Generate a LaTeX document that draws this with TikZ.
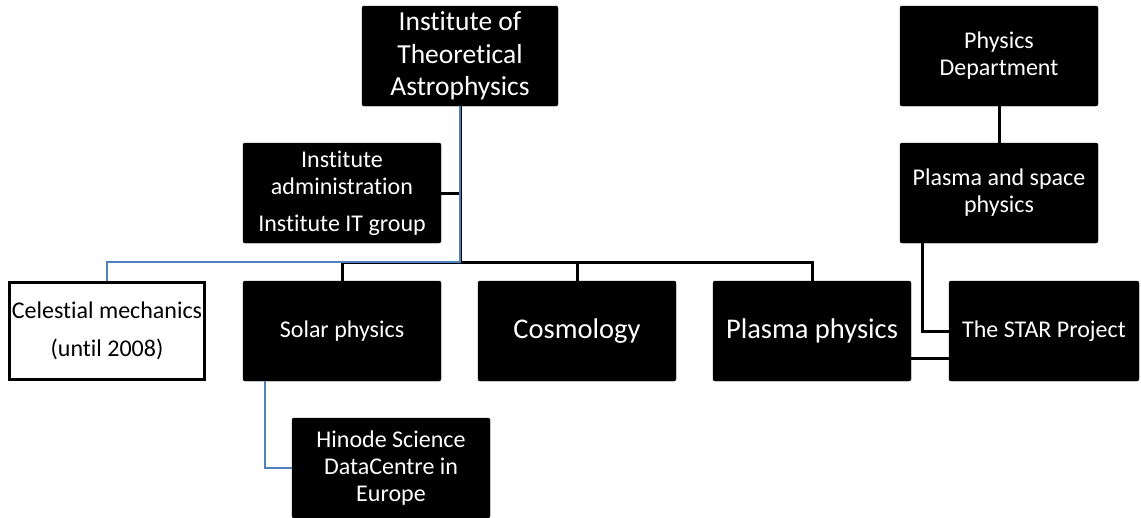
\documentclass[tikz,border=0pt]{standalone}
\usepackage{fontspec}
\setmainfont[Ligatures=NoCommon]{Carlito}
\definecolor{linkblue}{RGB}{79,129,189}
\tikzset{
  unit/.style={fill=black, draw=black, rounded corners=2pt, text=white,
    minimum width=198pt, minimum height=100pt, align=center, inner sep=1pt},
  pastunit/.style={fill=white, draw=black, line width=3pt, text=black,
    minimum width=195pt, minimum height=97pt, align=center, inner sep=0pt},
  conn/.style={draw=black, line width=3pt},
  blueconn/.style={draw=linkblue, line width=1.4pt},
  fsA/.style={font=\fontsize{27.5}{32.5}\selectfont},
  fsB/.style={font=\fontsize{24}{27}\selectfont},
  fsC/.style={font=\fontsize{28.5}{32}\selectfont},
}
\begin{document}
\begin{tikzpicture}[x=1pt, y=-1pt]
\useasboundingbox (0,0) rectangle (1141,517);

% institute and its groups
\node[unit, fsA, minimum width=196pt] (ita) at (460,56) {Institute of\\Theoretical\\Astrophysics};
\node[unit, fsB] (adm) at (342,193) {Institute\\administration\\[10pt]Institute IT group};
\node[pastunit, fsB, text depth=4pt] (cm) at (107,331) {Celestial mechanics\\[11pt](until 2008)};
\node[unit, fsB] (sp) at (342,331) {Solar physics};
\node[unit, fsC] (cos) at (577,331) {Cosmology};
\node[unit, fsC] (pp) at (812,331) {Plasma physics};
\node[unit, fsB] (hin) at (391,468) {Hinode Science\\DataCentre in\\Europe};

% physics department side
\node[unit, fsB] (pd) at (999,56) {Physics\\Department};
\node[unit, fsB] (psp) at (999,193) {Plasma and space\\physics};
\node[unit, fsB, minimum width=190pt] (star) at (1044,331) {The STAR Project};

% tree connectors
\coordinate (bus) at (460,262);
\draw[conn] (ita.south) -- (bus);
\draw[conn] (adm.east) -- (adm.east -| bus);
\draw[conn] (sp.north) |- (bus) -| (pp.north);
\draw[conn] (cos.north) -- (cos.north |- bus);
\draw[blueconn] (ita.south) -- (bus) -- (bus -| sp.north);
\draw[blueconn] (bus -| sp.north) -| (cm.north);
\coordinate (hx) at ([xshift=22pt]sp.south west);
\draw[blueconn] (hx) |- (hin.west);

\draw[conn] (pd.south) -- (psp.north);
\draw[conn] ([xshift=23pt]psp.south west) |- (star.west);
\draw[conn] ([yshift=-27pt]pp.east) -- ([yshift=-27pt]star.west);
\end{tikzpicture}
\end{document}
